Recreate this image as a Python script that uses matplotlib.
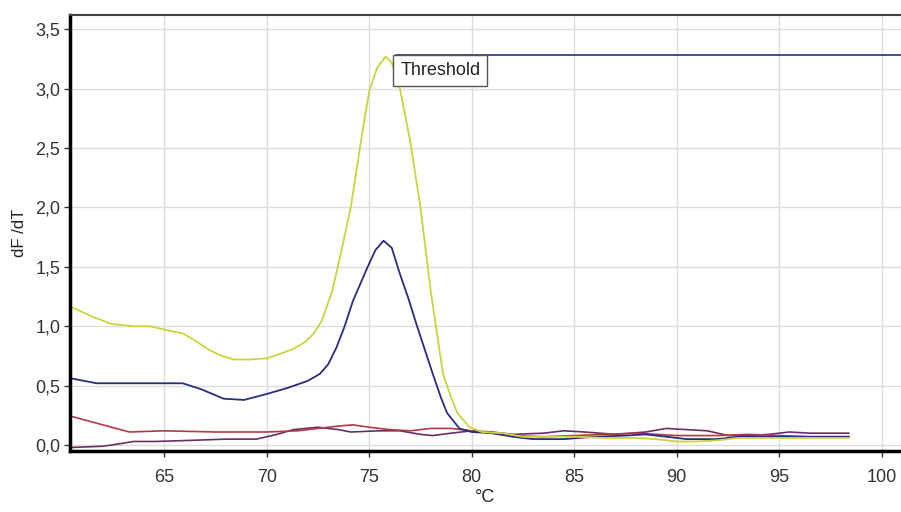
import numpy as np
import matplotlib.pyplot as plt
from matplotlib.ticker import FuncFormatter

# melt curve data
yellow_t = [60.5, 61.5, 62.4, 63.5, 64.3, 65.3, 65.9, 66.5, 67.2, 67.8, 68.4, 69.2, 70.0, 70.7, 71.3,
            71.9, 72.3, 72.7, 73.2, 73.6, 74.1, 74.6, 75.0, 75.4, 75.8, 76.1, 76.5, 77.0, 77.5, 78.0,
            78.6, 79.0, 79.3, 79.9, 80.5, 81.5, 82.5, 83.5, 85.0, 86.5, 88.0, 89.0, 90.0, 91.0, 92.0,
            93.0, 94.0, 95.0, 96.5, 98.4]
yellow_v = [1.16, 1.08, 1.02, 1.00, 1.00, 0.96, 0.94, 0.88, 0.80, 0.75, 0.72, 0.72, 0.73, 0.77, 0.81,
            0.87, 0.94, 1.05, 1.30, 1.60, 2.00, 2.56, 2.98, 3.18, 3.27, 3.22, 3.00, 2.56, 2.00, 1.30,
            0.60, 0.40, 0.27, 0.15, 0.11, 0.10, 0.07, 0.07, 0.07, 0.06, 0.06, 0.05, 0.03, 0.03, 0.04,
            0.06, 0.06, 0.06, 0.06, 0.06]

blue_t = [60.5, 61.7, 63.0, 64.5, 65.9, 66.8, 67.9, 68.9, 70.0, 71.0, 72.0, 72.6, 73.0, 73.4, 73.8,
          74.2, 74.6, 74.9, 75.3, 75.7, 76.1, 76.5, 76.9, 77.3, 77.7, 78.1, 78.5, 78.8, 79.4, 80.0,
          81.0, 82.0, 83.0, 84.5, 86.0, 87.5, 88.5, 89.5, 90.5, 92.0, 93.0, 94.5, 96.0, 98.4]
blue_v = [0.56, 0.52, 0.52, 0.52, 0.52, 0.47, 0.39, 0.38, 0.43, 0.48, 0.54, 0.60, 0.68, 0.82, 1.00,
          1.21, 1.37, 1.49, 1.64, 1.72, 1.66, 1.44, 1.24, 1.02, 0.81, 0.60, 0.40, 0.27, 0.14, 0.11,
          0.10, 0.07, 0.05, 0.05, 0.07, 0.08, 0.09, 0.07, 0.05, 0.05, 0.07, 0.07, 0.07, 0.07]

red_t = [60.5, 62.0, 63.3, 65.0, 67.5, 70.0, 71.5, 72.5, 73.5, 74.2, 75.0, 76.0, 77.0, 78.0, 79.0,
         80.0, 81.0, 82.0, 83.5, 85.0, 86.5, 88.0, 89.0, 90.0, 91.0, 92.0, 93.5, 95.0, 96.5, 98.4]
red_v = [0.24, 0.17, 0.11, 0.12, 0.11, 0.11, 0.12, 0.14, 0.16, 0.17, 0.15, 0.13, 0.12, 0.14, 0.14,
         0.12, 0.10, 0.08, 0.07, 0.08, 0.09, 0.10, 0.09, 0.08, 0.08, 0.08, 0.09, 0.08, 0.07, 0.07]

purple_t = [60.5, 62.0, 62.8, 63.5, 64.5, 66.4, 68.0, 69.5, 70.5, 71.3, 72.5, 73.5, 74.1, 75.5, 76.5,
            77.5, 78.1, 79.0, 80.0, 81.0, 82.0, 83.5, 84.5, 85.5, 87.0, 88.5, 89.5, 90.5, 91.5, 92.5,
            93.5, 94.5, 95.5, 96.5, 98.4]
purple_v = [-0.02, -0.01, 0.01, 0.03, 0.03, 0.04, 0.05, 0.05, 0.09, 0.13, 0.15, 0.13, 0.11, 0.12, 0.12,
            0.09, 0.08, 0.10, 0.12, 0.11, 0.09, 0.10, 0.12, 0.11, 0.09, 0.11, 0.14, 0.13, 0.12, 0.08,
            0.08, 0.09, 0.11, 0.10, 0.10]

threshold = 3.28
threshold_start = 76.3

plt.rcParams['font.family'] = ['Liberation Sans', 'DejaVu Sans']

fig = plt.figure(figsize=(9.01, 5.12), dpi=100)
ax = fig.add_axes([70/901, 61/512, 1 - 70/901, (451-15)/512])

ax.plot(purple_t, purple_v, color='#6a2f62', lw=1.2)
ax.plot(red_t, red_v, color='#b23a44', lw=1.2)
ax.plot(blue_t, blue_v, color='#2c2c7c', lw=1.3)
ax.plot(yellow_t, yellow_v, color='#cad43e', lw=1.3)

ax.plot([threshold_start, 102], [threshold, threshold], color='#2a2a80', lw=1.2)
ax.text(76.52, 3.225, "Threshold", fontsize=13, color='#222222', va='top', ha='left',
        bbox=dict(boxstyle='square,pad=0.38', fc='white', ec='#555555', lw=1))

ax.set_xlim(60.4, 100.95)
ax.set_ylim(-0.05, 3.62)
ax.set_xticks([65, 70, 75, 80, 85, 90, 95, 100])
ax.set_yticks(np.arange(0, 3.51, 0.5))
ax.yaxis.set_major_formatter(FuncFormatter(lambda v, p: ('%.1f' % v).replace('.', ',')))

ax.grid(True, color='#dddddd', lw=1)
ax.set_axisbelow(True)
ax.tick_params(direction='out', length=4, width=1, colors='#333333', labelsize=13, pad=3)
ax.tick_params(axis='x', pad=9)
ax.spines['left'].set_linewidth(2.5)
ax.spines['bottom'].set_linewidth(2.5)
ax.spines['top'].set_linewidth(1.5)
ax.spines['top'].set_color('#444444')
ax.spines['right'].set_visible(False)

ax.set_ylabel('dF /dT', fontsize=12, color='#222222', labelpad=6)
ax.set_xlabel('°C', fontsize=13, color='#222222', labelpad=2)

fig.savefig('out.png', dpi=100)
